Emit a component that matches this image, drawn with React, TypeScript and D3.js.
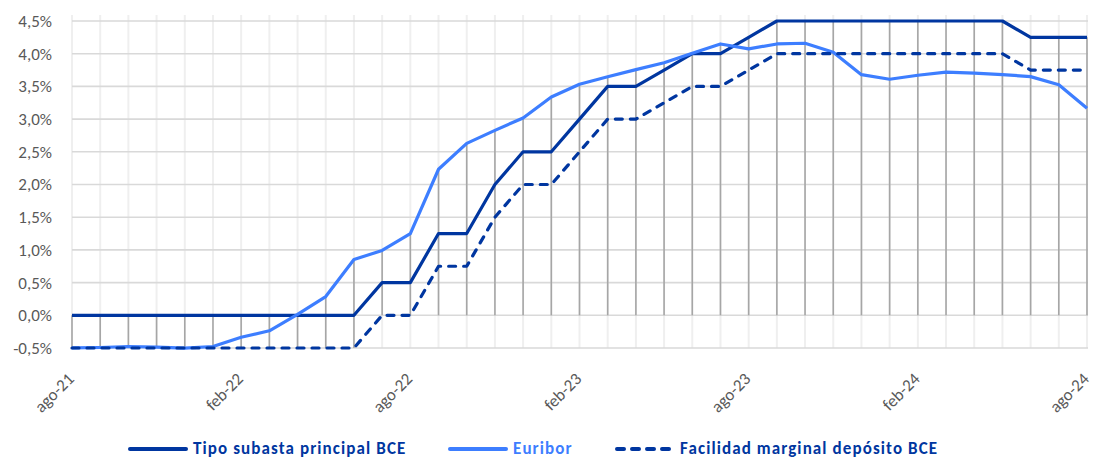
import * as d3 from 'd3';

const months = [
  'ago-21', 'sep-21', 'oct-21', 'nov-21', 'dic-21', 'ene-22', 'feb-22', 'mar-22', 'abr-22', 'may-22',
  'jun-22', 'jul-22', 'ago-22', 'sep-22', 'oct-22', 'nov-22', 'dic-22', 'ene-23', 'feb-23', 'mar-23',
  'abr-23', 'may-23', 'jun-23', 'jul-23', 'ago-23', 'sep-23', 'oct-23', 'nov-23', 'dic-23', 'ene-24',
  'feb-24', 'mar-24', 'abr-24', 'may-24', 'jun-24', 'jul-24', 'ago-24',
];

const tipoBCE = [
  0, 0, 0, 0, 0, 0, 0, 0, 0, 0, 0, 0.5, 0.5, 1.25, 1.25, 2.0, 2.5, 2.5, 3.0, 3.5,
  3.5, 3.75, 4.0, 4.0, 4.25, 4.5, 4.5, 4.5, 4.5, 4.5, 4.5, 4.5, 4.5, 4.5, 4.25, 4.25, 4.25,
];

const euribor = [
  -0.498, -0.492, -0.477, -0.487, -0.502, -0.477, -0.335, -0.237, 0.013, 0.287, 0.852, 0.992, 1.249,
  2.233, 2.629, 2.828, 3.018, 3.337, 3.534, 3.647, 3.757, 3.862, 4.007, 4.149, 4.073, 4.149, 4.16,
  4.022, 3.679, 3.609, 3.671, 3.718, 3.703, 3.68, 3.65, 3.526, 3.166,
];

const facilidadBCE = [
  -0.5, -0.5, -0.5, -0.5, -0.5, -0.5, -0.5, -0.5, -0.5, -0.5, -0.5, 0, 0, 0.75, 0.75, 1.5, 2.0, 2.0, 2.5, 3.0,
  3.0, 3.25, 3.5, 3.5, 3.75, 4.0, 4.0, 4.0, 4.0, 4.0, 4.0, 4.0, 4.0, 4.0, 3.75, 3.75, 3.75,
];

const yTicks = [-0.5, 0, 0.5, 1, 1.5, 2, 2.5, 3, 3.5, 4, 4.5];
const xTickLabels = ['ago-21', 'feb-22', 'ago-22', 'feb-23', 'ago-23', 'feb-24', 'ago-24'];

const NAVY = '#0036a0';
const BRIGHT = '#3d7eff';
const FONT = 'Carlito, Calibri, Lato, sans-serif';

const series = [
  { name: 'Tipo subasta principal BCE', values: tipoBCE, color: NAVY, dash: null },
  { name: 'Euribor', values: euribor, color: BRIGHT, dash: null },
  { name: 'Facilidad marginal depósito BCE', values: facilidadBCE, color: NAVY, dash: '7 8' },
];

const legendPos = [130, 450, 617];

export default function App() {
  const width = 1093;
  const height = 459;

  const x = d3.scalePoint<string>().domain(months).range([72, 1087]);
  const y = d3.scaleLinear().domain([-0.5, 4.5]).range([348, 21]);

  const line = d3
    .line<number>()
    .x((_, i) => x(months[i]) ?? 0)
    .y((d) => y(d));

  const fmt = (v: number) => `${v.toFixed(1).replace('.', ',')}%`;

  return (
    <svg
      width={width}
      height={height}
      style={{ position: 'absolute', left: 0, top: 0, background: '#fff' }}
      fontFamily={FONT}
    >
      {/* vertical gridlines */}
      {months.map((m) => (
        <line key={'vg' + m} x1={x(m)} x2={x(m)} y1={15} y2={y(-0.5)} stroke="#efefef" strokeWidth={2} />
      ))}
      {/* horizontal gridlines */}
      {yTicks.map((t) => (
        <line key={'hg' + t} x1={72} x2={1088} y1={y(t)} y2={y(t)} stroke="#d9d9d9" strokeWidth={1.6} />
      ))}
      {/* drop lines to the 0 axis */}
      {months.map((m, i) => {
        const vals = [0, tipoBCE[i], euribor[i], facilidadBCE[i]];
        return (
          <line
            key={'dl' + m}
            x1={x(m)}
            x2={x(m)}
            y1={y(d3.max(vals) ?? 0)}
            y2={y(d3.min(vals) ?? 0)}
            stroke="#a6a6a6"
            strokeWidth={1.6}
          />
        );
      })}
      {/* y axis labels */}
      {yTicks.map((t) => (
        <text key={'yl' + t} x={52} y={y(t)} dy="0.35em" textAnchor="end" fontSize={17} fill="#595959">
          {fmt(t)}
        </text>
      ))}
      {/* x axis labels */}
      {xTickLabels.map((m) => (
        <text
          key={'xl' + m}
          transform={`translate(${(x(m) ?? 0) + 3},380) rotate(-45)`}
          textAnchor="end"
          fontSize={17}
          fill="#595959"
        >
          {m}
        </text>
      ))}
      {/* series */}
      {series.map((s) => (
        <path
          key={s.name}
          d={line(s.values) ?? ''}
          fill="none"
          stroke={s.color}
          strokeWidth={3.2}
          strokeLinejoin="round"
          strokeLinecap={s.dash ? 'round' : 'butt'}
          strokeDasharray={s.dash ?? undefined}
        />
      ))}
      {/* legend */}
      {series.map((s, i) => (
        <g key={'lg' + s.name} transform={`translate(${legendPos[i]},449)`}>
          <line
            x1={0}
            x2={56}
            y1={0}
            y2={0}
            stroke={s.color}
            strokeWidth={4}
            strokeLinecap="round"
            strokeDasharray={s.dash ? '7 8' : undefined}
          />
          <text
            x={63}
            y={0}
            dy="0.3em"
            fontSize={17}
            fontWeight="bold"
            letterSpacing={1.1}
            fill={s.color}
          >
            {s.name}
          </text>
        </g>
      ))}
    </svg>
  );
}
